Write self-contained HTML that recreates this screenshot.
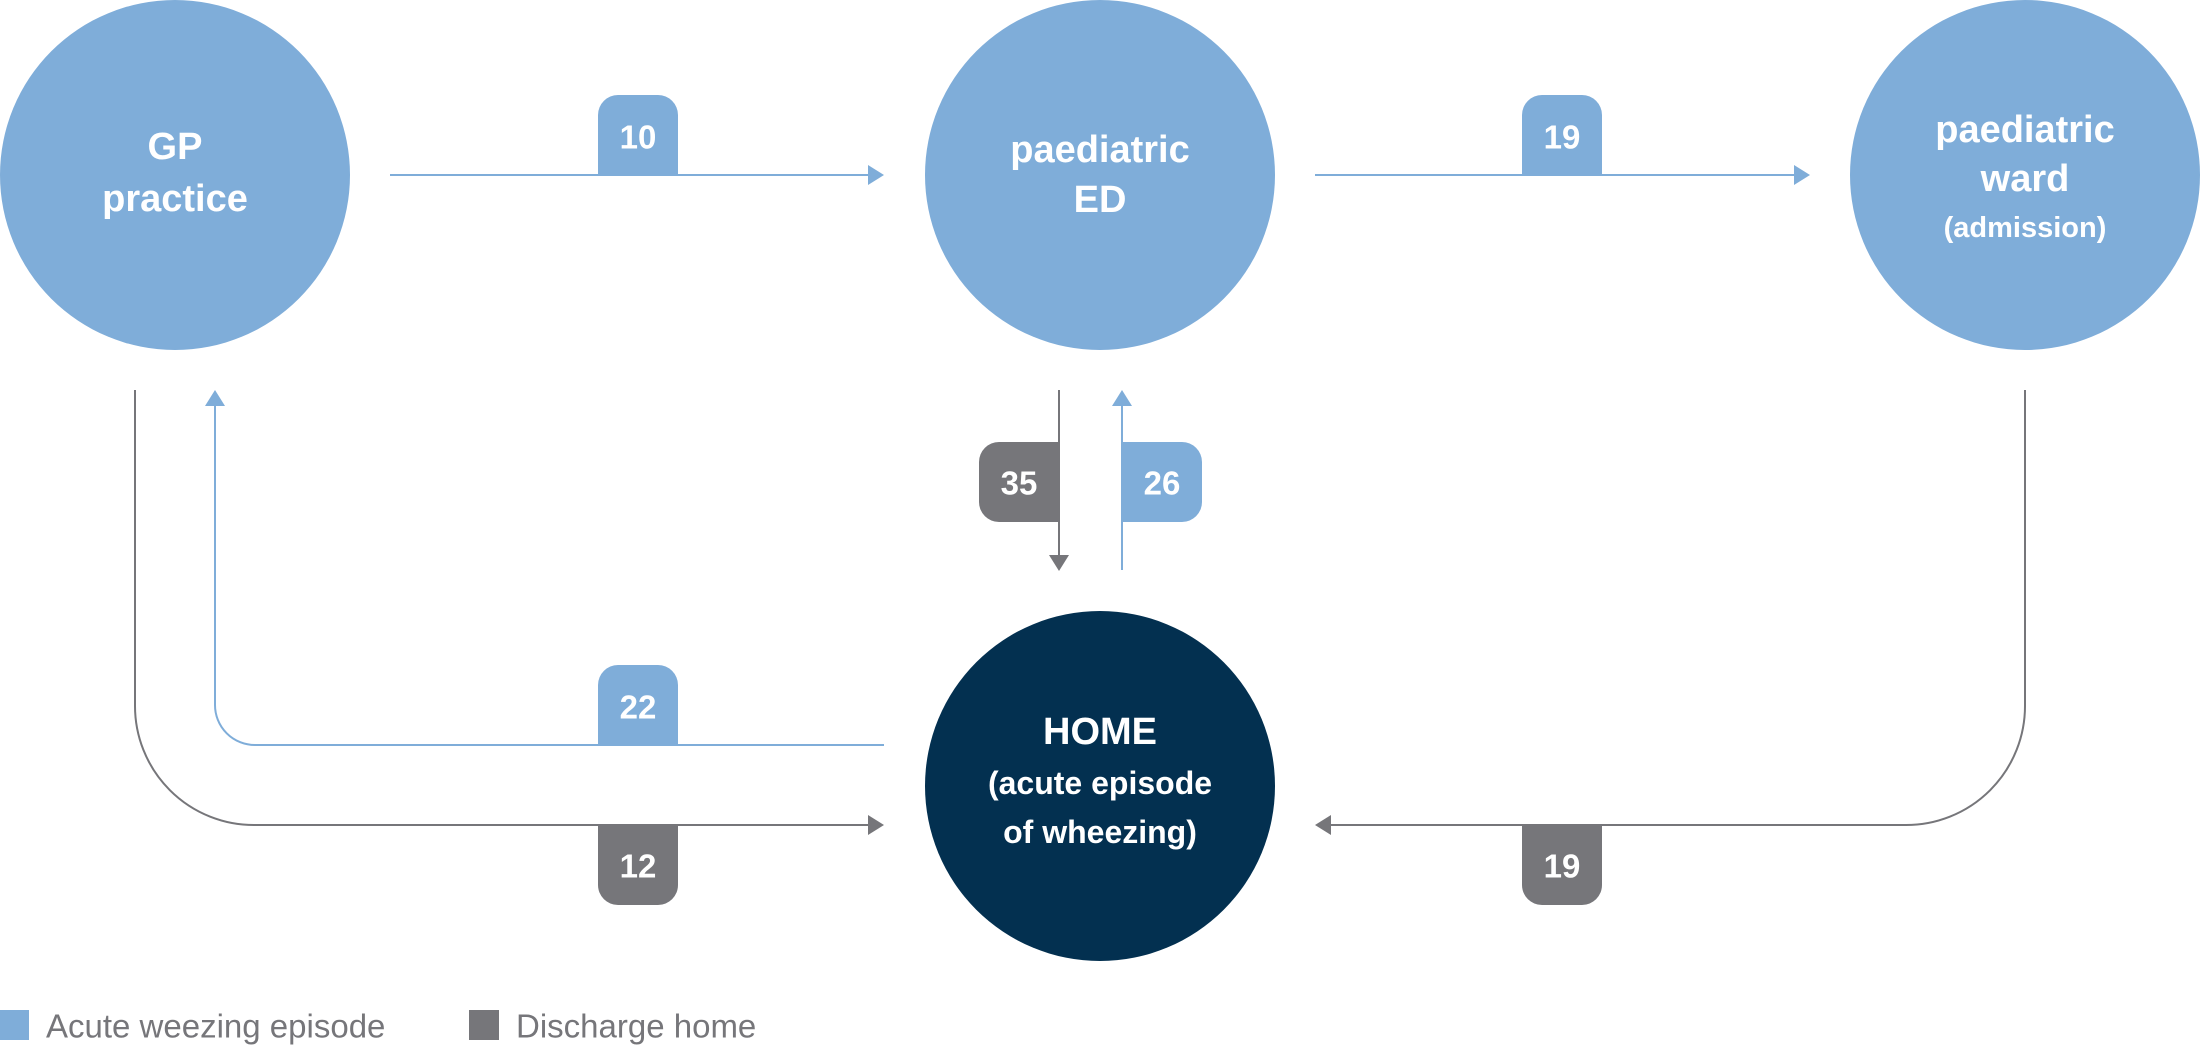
<!DOCTYPE html>
<html><head><meta charset="utf-8"><style>
html,body{margin:0;padding:0;background:#fff;width:2200px;height:1046px;overflow:hidden}
svg{display:block}
text{font-family:"Liberation Sans Narrow","Liberation Sans",sans-serif;font-weight:bold;fill:#fff;text-anchor:middle;dominant-baseline:central}
</style></head><body>
<svg width="2200" height="1046" viewBox="0 0 2200 1046">
<g fill="#7fadd9">
<circle cx="175" cy="175" r="175"/>
<circle cx="1100" cy="175" r="175"/>
<circle cx="2025" cy="175" r="175"/>
</g>
<circle cx="1100" cy="786" r="175" fill="#033050"/>
<g font-size="38">
<text x="175" y="147">GP</text><text x="175" y="199">practice</text>
<text x="1100" y="150">paediatric</text><text x="1100" y="200">ED</text>
<text x="2025" y="130">paediatric</text><text x="2025" y="179">ward</text>
<text x="2025" y="228" font-size="29">(admission)</text>
<text x="1100" y="732">HOME</text>
<text x="1100" y="783" font-size="32">(acute episode</text>
<text x="1100" y="832" font-size="32">of wheezing)</text>
</g>
<g fill="none" stroke-width="2">
<line x1="390" y1="175" x2="870" y2="175" stroke="#7fadd9"/>
<line x1="1315" y1="175" x2="1795" y2="175" stroke="#7fadd9"/>
<line x1="1059" y1="390" x2="1059" y2="558" stroke="#76767a"/>
<line x1="1122" y1="405" x2="1122" y2="570" stroke="#7fadd9"/>
<path d="M135 390 V706 A119 119 0 0 0 254 825 H870" stroke="#76767a"/>
<path d="M215 405 V705 A40 40 0 0 0 255 745 H884" stroke="#7fadd9"/>
<path d="M2025 390 V706 A119 119 0 0 1 1906 825 H1330" stroke="#76767a"/>
</g>
<polygon points="868,165 884,175 868,185" fill="#7fadd9"/>
<polygon points="1794,165 1810,175 1794,185" fill="#7fadd9"/>
<polygon points="1049,555 1069,555 1059,571" fill="#76767a"/>
<polygon points="1112,406 1132,406 1122,390" fill="#7fadd9"/>
<polygon points="205,406 225,406 215,390" fill="#7fadd9"/>
<polygon points="868,815 884,825 868,835" fill="#76767a"/>
<polygon points="1331,815 1315,825 1331,835" fill="#76767a"/>
<g font-size="33">
<path d="M598 175 V115 A20 20 0 0 1 618 95 H658 A20 20 0 0 1 678 115 V175 Z" fill="#7fadd9"/><text x="638" y="137">10</text>
<path d="M1522 175 V115 A20 20 0 0 1 1542 95 H1582 A20 20 0 0 1 1602 115 V175 Z" fill="#7fadd9"/><text x="1562" y="137">19</text>
<path d="M598 745 V685 A20 20 0 0 1 618 665 H658 A20 20 0 0 1 678 685 V745 Z" fill="#7fadd9"/><text x="638" y="707">22</text>
<path d="M598 825 V885 A20 20 0 0 0 618 905 H658 A20 20 0 0 0 678 885 V825 Z" fill="#76767a"/><text x="638" y="866">12</text>
<path d="M1522 825 V885 A20 20 0 0 0 1542 905 H1582 A20 20 0 0 0 1602 885 V825 Z" fill="#76767a"/><text x="1562" y="866">19</text>
<path d="M1059 442 H999 A20 20 0 0 0 979 462 V502 A20 20 0 0 0 999 522 H1059 Z" fill="#76767a"/><text x="1019" y="483">35</text>
<path d="M1122 442 H1182 A20 20 0 0 1 1202 462 V502 A20 20 0 0 1 1182 522 H1122 Z" fill="#7fadd9"/><text x="1162" y="483">26</text>
</g>
<rect x="0" y="1010" width="29" height="30" fill="#7fadd9"/>
<rect x="469" y="1010" width="30" height="30" fill="#76767a"/>
<text x="46" y="1026" font-size="33" style="text-anchor:start;fill:#76767a;font-weight:normal">Acute weezing episode</text>
<text x="516" y="1026" font-size="33" style="text-anchor:start;fill:#76767a;font-weight:normal">Discharge home</text>
</svg>
</body></html>
